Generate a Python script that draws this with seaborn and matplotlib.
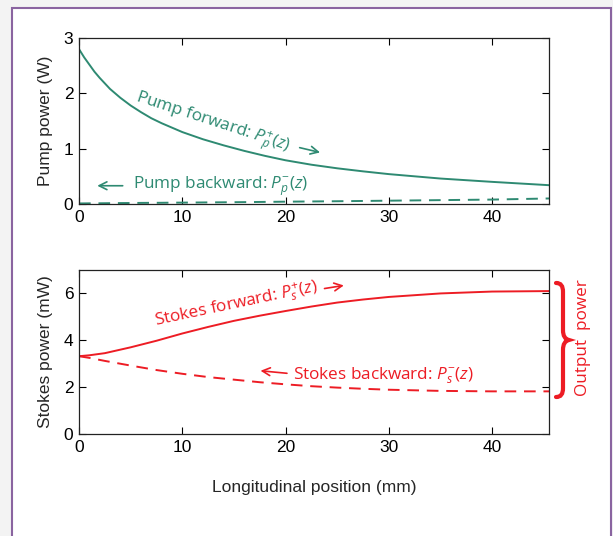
import numpy as np
import pandas as pd
import seaborn as sns
import matplotlib.pyplot as plt
from matplotlib.path import Path
from matplotlib.patches import PathPatch, Rectangle

# values
z_pump = [0, 0.5, 1, 1.5, 2, 2.5, 3, 4, 5, 6, 7, 8, 9, 10, 12, 14, 16, 18, 20,
          22.5, 25, 27.5, 30, 35, 40, 45.5]
pump_fwd = [2.80, 2.65, 2.52, 2.39, 2.28, 2.18, 2.08, 1.92, 1.78, 1.66, 1.55, 1.46,
            1.38, 1.30, 1.17, 1.06, 0.96, 0.87, 0.79, 0.71, 0.645, 0.59, 0.54,
            0.46, 0.40, 0.34]
pump_bwd = [0.01, 0.011, 0.012, 0.013, 0.013, 0.014, 0.015, 0.017, 0.018, 0.02,
            0.021, 0.022, 0.024, 0.025, 0.028, 0.031, 0.034, 0.038, 0.042,
            0.046, 0.05, 0.055, 0.06, 0.07, 0.08, 0.10]

z_stokes = [0, 1, 2.5, 5, 7.5, 10, 12.5, 15, 17.5, 20, 22.5, 25, 27.5, 30, 35,
            40, 45.5]
stokes_fwd = [3.32, 3.36, 3.45, 3.70, 3.98, 4.29, 4.57, 4.83, 5.05, 5.25, 5.44,
              5.61, 5.74, 5.85, 6.00, 6.08, 6.10]
stokes_bwd = [3.32, 3.25, 3.12, 2.92, 2.73, 2.57, 2.43, 2.32, 2.21, 2.12, 2.04,
              1.98, 1.93, 1.89, 1.84, 1.82, 1.82]

xticks = [0, 10, 20, 30, 40]
green = '#2e8a72'
red = '#ed1c24'

sns.set_style('ticks')
plt.rcParams['font.family'] = ['Liberation Sans', 'DejaVu Sans']
plt.rcParams['mathtext.fontset'] = 'custom'
plt.rcParams['mathtext.rm'] = 'Open Sans'
plt.rcParams['mathtext.it'] = 'Open Sans:italic'
plt.rcParams['xtick.direction'] = 'in'
plt.rcParams['ytick.direction'] = 'in'

W, H = 613, 536
fig = plt.figure(figsize=(W / 100, H / 100), dpi=100)
fig.patch.set_facecolor('#f3f3f3')

def fp(x, y):
    return (x / W, 1 - y / H)

def ax_box(l, t, r, b):
    return [l / W, 1 - b / H, (r - l) / W, (b - t) / H]

# purple frame with white inside
fig.patches.append(Rectangle(fp(12, 560), (611 - 12) / W, (560 - 8) / H,
                             transform=fig.transFigure, facecolor='white',
                             edgecolor='#8a64a0', lw=1.5, zorder=-5))

ax1 = fig.add_axes(ax_box(79, 38, 549, 204))
ax2 = fig.add_axes(ax_box(79, 270, 549, 434))

df_p = pd.DataFrame({'z': z_pump, 'fwd': pump_fwd, 'bwd': pump_bwd})
df_s = pd.DataFrame({'z': z_stokes, 'fwd': stokes_fwd, 'bwd': stokes_bwd})

sns.lineplot(data=df_p, x='z', y='fwd', ax=ax1, color=green, lw=1.4)
sns.lineplot(data=df_p, x='z', y='bwd', ax=ax1, color=green, lw=1.4)
ax1.lines[-1].set_dashes([6, 4])
sns.lineplot(data=df_s, x='z', y='fwd', ax=ax2, color=red, lw=1.4)
sns.lineplot(data=df_s, x='z', y='bwd', ax=ax2, color=red, lw=1.4)
ax2.lines[-1].set_dashes([6, 4])

for ax in (ax1, ax2):
    ax.set_facecolor('white')
    ax.set_xlim(0, 45.5)
    ax.set_xticks(xticks)
    ax.tick_params(labelsize=12.5, length=5, width=0.8, top=True, right=True,
                   colors='black', pad=4)
    for s in ax.spines.values():
        s.set_visible(True)
        s.set_linewidth(0.9)
        s.set_color('#222222')
    ax.set_xlabel('')

ax1.set_ylim(0, 3)
ax1.set_yticks([0, 1, 2, 3])
ax1.set_ylabel('Pump power (W)', fontsize=12.5, labelpad=8)
ax2.set_ylim(0, 7)
ax2.set_yticks([0, 2, 4, 6])
ax2.set_ylabel('Stokes power (mW)', fontsize=12.5, labelpad=8)
ax2.set_xlabel('Longitudinal position (mm)', fontsize=12.5, labelpad=18)

tfont = dict(family='Open Sans', fontsize=12.3)
arrow = dict(arrowstyle='->', lw=1.2, mutation_scale=14)

ax1.text(12.9, 1.46, r'Pump forward: $P_p^{+}(z)$', color=green, rotation=-18,
         rotation_mode='anchor', ha='center', va='center', **tfont)
ax1.annotate('', xy=(23.6, 0.92), xytext=(21.1, 1.03),
             arrowprops=dict(color=green, **arrow))
ax1.text(5.2, 0.33, r'Pump backward: $P_p^{-}(z)$', color=green,
         ha='left', va='center', **tfont)
ax1.annotate('', xy=(1.5, 0.33), xytext=(4.5, 0.33),
             arrowprops=dict(color=green, **arrow))

ax2.text(15.2, 5.55, r'Stokes forward: $P_s^{+}(z)$', color=red, rotation=12,
         rotation_mode='anchor', ha='center', va='center', **tfont)
ax2.annotate('', xy=(25.9, 6.36), xytext=(23.5, 6.19),
             arrowprops=dict(color=red, **arrow))
ax2.text(20.7, 2.5, r'Stokes backward: $P_s^{-}(z)$', color=red,
         ha='left', va='center', **tfont)
ax2.annotate('', xy=(17.3, 2.71), xytext=(20.4, 2.58),
             arrowprops=dict(color=red, **arrow))

# curly brace for output power
verts = [fp(556, 283), fp(561, 283), fp(563, 286), fp(563, 292),
         fp(563, 330),
         fp(563, 336), fp(565, 339), fp(569, 340),
         fp(565, 341), fp(563, 344), fp(563, 350),
         fp(563, 388),
         fp(563, 394), fp(561, 397), fp(556, 397)]
codes = [Path.MOVETO, Path.CURVE4, Path.CURVE4, Path.CURVE4,
         Path.LINETO,
         Path.CURVE4, Path.CURVE4, Path.CURVE4,
         Path.CURVE4, Path.CURVE4, Path.CURVE4,
         Path.LINETO,
         Path.CURVE4, Path.CURVE4, Path.CURVE4]
fig.patches.append(PathPatch(Path(verts, codes), transform=fig.transFigure,
                             fill=False, edgecolor=red, lw=3, capstyle='round'))
fig.text(583 / W, 1 - 338 / H, 'Output  power', color=red, rotation=90,
         ha='center', va='center', **tfont)

fig.savefig('out.png', dpi=100, facecolor=fig.get_facecolor())
